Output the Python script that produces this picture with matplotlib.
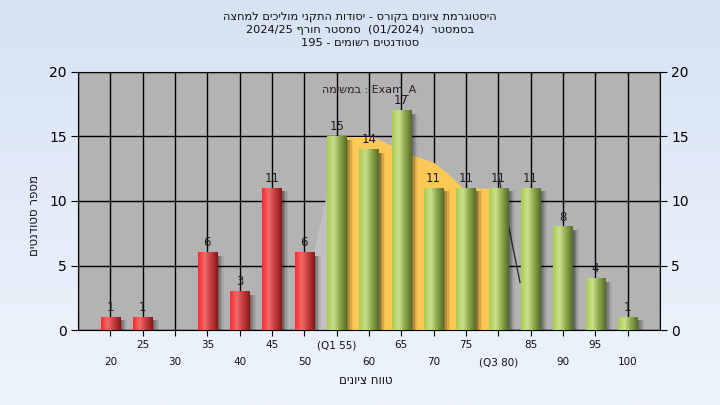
import re
import numpy as np
import matplotlib
matplotlib.use('Agg')
import matplotlib.pyplot as plt
from matplotlib.colors import LinearSegmentedColormap
import matplotlib.transforms as mtransforms

plt.rcParams['font.family'] = ['DejaVu Sans']

# grade histogram data
grades = ['20', '25', '30', '35', '40', '45', '50', '(Q1 55)', '60', '65',
          '70', '75', '(Q3 80)', '85', '90', '95', '100']
counts = [1, 1, 0, 6, 3, 11, 6, 15, 14, 17, 11, 11, 11, 11, 8, 4, 1]
pass_from = 7  # index of first "passing" bar (55)

# smoothed quartile band (yellow area)
band_x = [7, 8.1, 8.7, 9.3, 10.0, 10.4, 10.9, 12.0]
band_y = [15, 15, 14.3, 13.6, 13.0, 12.2, 11.0, 11.0]

title_lines = ['היסטוגרמת ציונים בקורס - יסודות התקני מוליכים למחצה',
               'בסמסטר  (01/2024)  סמסטר חורף 2024/25',
               'סטודנטים רשומים - 195']
xlabel = 'טווח ציונים'
ylabel = 'מספר סטודנטים'
task_word = 'במשימה'
task_name = 'Exam_A'


def vis(s):
    # crude rtl -> visual order for drawing left to right
    r = s[::-1]
    r = re.sub(r'[0-9A-Za-z_/.]+', lambda m: m.group(0)[::-1], r)
    return r.translate(str.maketrans('()', ')('))


fig = plt.figure(figsize=(7.2, 4.05), dpi=100)

# figure background gradient
bg = fig.add_axes([0, 0, 1, 1], zorder=-10)
grad = np.linspace(0, 1, 256).reshape(-1, 1)
bg_cmap = LinearSegmentedColormap.from_list('bg', ['#d6e3f4', '#eef4fc'])
bg.imshow(grad, aspect='auto', cmap=bg_cmap, extent=[0, 1, 0, 1])
bg.axis('off')

ax = fig.add_axes([78 / 720, 1 - 330 / 405, 582 / 720, 258 / 405])
ax.set_facecolor('#b3b3b3')

for xv in range(-1, 18):
    ax.axvline(xv, color='black', lw=1, zorder=1)
for yv in range(0, 21, 5):
    ax.axhline(yv, color='black', lw=1, zorder=1)

# faint lighter area and the yellow band
ax.fill([6.3, 6.3, 7.1, 7.1], [0, 6, 15, 0], color='#c0c0c0', zorder=2, lw=0)
ax.fill_between(band_x, 0, band_y, color='#fdc955', zorder=2, lw=0)
ax.plot([12.0, 12.67], [12.0, 3.7], color='#333333', lw=1, zorder=2)

red_cmap = LinearSegmentedColormap.from_list('r', ['#ff2a2a', '#f06a6a', '#c23a3a', '#861818'])
green_cmap = LinearSegmentedColormap.from_list('g', ['#a9cc50', '#c9e08e', '#8aa548', '#566c2c'])
strip = np.linspace(0, 1, 64).reshape(1, -1)

w = 0.6
for i, c in enumerate(counts):
    if c == 0:
        continue
    # soft shadow on the right
    for k, a in enumerate([0.2, 0.15, 0.1, 0.06]):
        off = 0.06 + 0.05 * k
        ax.fill([i - w / 2 + off, i + w / 2 + off, i + w / 2 + off, i - w / 2 + off],
                [0, 0, c - 0.25, c - 0.25], color='black', alpha=a, lw=0, zorder=3)
    cm = green_cmap if i >= pass_from else red_cmap
    ax.imshow(strip, aspect='auto', cmap=cm, extent=[i - w / 2, i + w / 2, 0, c],
              zorder=4, interpolation='bilinear')
    ax.text(i, c + 0.25, str(c), ha='center', va='bottom', fontsize=8.5,
            color='#1c1c2a', zorder=6)

ax.set_xlim(-1, 17)
ax.set_ylim(0, 20)

ax.text(0.5, 0.955, vis(task_word) + ' : ' + task_name, transform=ax.transAxes,
        ha='center', va='top', fontsize=8, color='#2a1a2a', zorder=6)

ax.set_yticks(range(0, 21, 5))
ax.tick_params(axis='y', which='both', left=True, right=True, labelleft=True,
               labelright=True, length=5, labelsize=10, direction='out', pad=3)
ax.set_xticks(range(0, 17))
ax.set_xticklabels([])
ax.tick_params(axis='x', length=4, direction='out')
for s in ax.spines.values():
    s.set_color('black')

trans = mtransforms.blended_transform_factory(ax.transData, ax.transAxes)
for i, g in enumerate(grades):
    yy = -0.06 if i % 2 == 1 else -0.125
    ax.text(i, yy, g, transform=trans, ha='center', va='center', fontsize=7.5,
            color='#111111')

fig.text(366 / 720, 1 - 381 / 405, vis(xlabel), ha='center', va='center',
         fontsize=8.5, color='#111111')
fig.text(35 / 720, 1 - 215 / 405, vis(ylabel), ha='center', va='center',
         rotation=90, fontsize=8.5, color='#111111')

for k, line in enumerate(title_lines):
    fig.text(360 / 720, 1 - (17 + 13 * k) / 405, vis(line), ha='center',
             va='center', fontsize=8.2, color='#111111')

fig.savefig('out.png', dpi=100)
